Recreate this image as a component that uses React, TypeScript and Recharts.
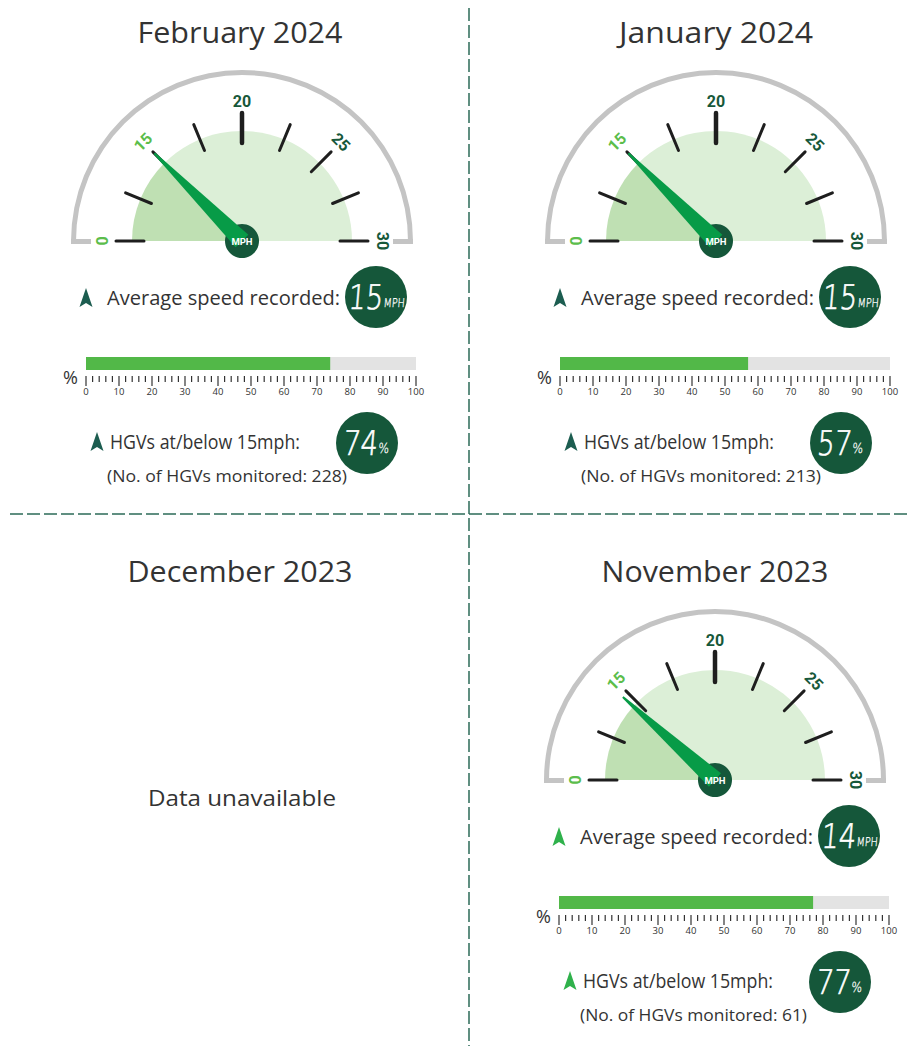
import React from 'react';
import { PieChart, Pie, Cell, BarChart, Bar, XAxis, YAxis } from 'recharts';

// ---------- data ----------
const months = ['February 2024', 'January 2024', 'December 2023', 'November 2023'];
const avgSpeedMph = [15, 15, null, 14];
const pctAtOrBelow15 = [74, 57, null, 77];
const hgvsMonitored = [228, 213, null, 61];
const arrowColors = ['#1c5d50', '#1c5d50', null, '#2fb14b'];

const gaugeTicks = [0, 7.5, 15, 17.5, 20, 22.5, 25, 27.5, 30];
const gaugeTickLabels = ['0', '', '15', '', '20', '', '25', '', '30'];
const gaugeLabelColors = ['#5bbd4b', '', '#5bbd4b', '', '#17583a', '', '#17583a', '', '#17583a'];

const rulerLabelTicks = [0, 10, 20, 30, 40, 50, 60, 70, 80, 90, 100];
const rulerTicks = Array.from({ length: 51 }, (_, i) => i * 2);

// panel layout (top-left origin of each quadrant relative to reference)
const panelOffsets: [number, number][] = [[0, 0], [474, 0], [0, 539], [473, 539]];
const titleWidths = [205, 194, 225, 227];

const DARK = '#15573a';
const TEXT = '#333333';
const FONT = "'Open Sans', 'Noto Sans', sans-serif";
const DIGIT_FONT = "'DejaVu Sans', sans-serif";

// maps a speed to a position on the (piecewise) gauge tick scale
function gaugePos(speed: number): number {
  for (let i = 0; i < gaugeTicks.length - 1; i++) {
    const a = gaugeTicks[i];
    const b = gaugeTicks[i + 1];
    if (speed >= a && speed <= b) return i + (speed - a) / (b - a);
  }
  return gaugeTicks.length - 1;
}

const RAD = Math.PI / 180;
const pt = (cx: number, cy: number, r: number, ang: number) => [cx + r * Math.cos(ang * RAD), cy - r * Math.sin(ang * RAD)];

const renderRimStubs = (p: any) => {
  const { cx, cy } = p;
  return (
    <g>
      <rect x={cx - 171} y={cy - 2} width={20} height={5} fill="#c4c4c4" />
      <rect x={cx + 151} y={cy - 2} width={20} height={5} fill="#c4c4c4" />
    </g>
  );
};

const renderTick = (p: any) => {
  const { cx, cy, midAngle, index } = p;
  const isMajor = index === 4;
  const [x1, y1] = pt(cx, cy, 98, midAngle);
  const [x2, y2] = pt(cx, cy, isMajor ? 128 : 126, midAngle);
  const label = gaugeTickLabels[index];
  const [lx, ly] = pt(cx, cy, 140, midAngle);
  return (
    <g>
      <line x1={x1} y1={y1} x2={x2} y2={y2} stroke="#1e1e1e" strokeWidth={isMajor ? 4.5 : 3} strokeLinecap="round" />
      {label ? (
        <text
          x={lx}
          y={ly}
          transform={`rotate(${90 - midAngle} ${lx} ${ly})`}
          textAnchor="middle"
          dominantBaseline="central"
          fontFamily="Roboto, sans-serif"
          fontWeight={700}
          fontSize={16}
          fill={gaugeLabelColors[index]}
        >
          {label}
        </text>
      ) : null}
    </g>
  );
};

const renderNeedle = (p: any) => {
  const { cx, cy, midAngle, index } = p;
  if (index !== 0) return null;
  const ang = 2 * midAngle - 180;
  const [tx, ty] = pt(cx, cy, 124, ang);
  const [b1x, b1y] = pt(cx, cy, 9, ang + 90);
  const [b2x, b2y] = pt(cx, cy, 9, ang - 90);
  const [t1x, t1y] = pt(tx, ty, 1, ang + 90);
  const [t2x, t2y] = pt(tx, ty, 1, ang - 90);
  return <polygon points={`${b1x},${b1y} ${t1x},${t1y} ${t2x},${t2y} ${b2x},${b2y}`} fill="#079b47" />;
};

const renderHub = (p: any) => {
  const { cx, cy, index } = p;
  if (index !== 0) return null;
  return (
    <text x={cx} y={cy + 3.5} textAnchor="middle" fontFamily="Roboto, sans-serif" fontWeight={700} fontSize={9.5} fill="#ffffff">
      MPH
    </text>
  );
};

function Gauge({ speed, left, top }: { speed: number; left: number; top: number }) {
  const pos = gaugePos(speed);
  const span = gaugeTicks.length - 1;
  const CX = 210;
  const CY = 200;
  const fillData = [{ name: 'below', value: pos }, { name: 'above', value: span - pos }];
  const tickData = gaugeTicks.map((t) => ({ name: String(t), value: 1 }));
  return (
    <div style={{ position: 'absolute', left, top }}>
      <PieChart width={420} height={240} margin={{ top: 0, right: 0, bottom: 0, left: 0 }}>
        <Pie data={[{ name: 'rim', value: 1 }]} dataKey="value" cx={CX} cy={CY} startAngle={180} endAngle={0} innerRadius={166} outerRadius={171} fill="#c4c4c4" stroke="none" isAnimationActive={false} label={renderRimStubs} labelLine={false} />
        <Pie data={fillData} dataKey="value" cx={CX} cy={CY} startAngle={180} endAngle={0} innerRadius={0} outerRadius={110} stroke="none" isAnimationActive={false}>
          <Cell fill="#bfe0b3" />
          <Cell fill="#dcefd7" />
        </Pie>
        <Pie data={tickData} dataKey="value" cx={CX} cy={CY} startAngle={180 + 11.25} endAngle={-11.25} innerRadius={98} outerRadius={126} fill="transparent" stroke="none" isAnimationActive={false} label={renderTick} labelLine={false} />
        <Pie data={fillData} dataKey="value" cx={CX} cy={CY} startAngle={180} endAngle={0} innerRadius={0} outerRadius={110} fill="transparent" stroke="none" isAnimationActive={false} label={renderNeedle} labelLine={false} />
        <Pie data={[{ name: 'hub', value: 1 }]} dataKey="value" cx={CX} cy={CY} startAngle={0} endAngle={360} innerRadius={0} outerRadius={17} fill={DARK} stroke="none" isAnimationActive={false} label={renderHub} labelLine={false} />
      </PieChart>
    </div>
  );
}

const RulerTick = (p: any) => {
  const { x, y, payload } = p;
  const v = payload.value;
  const isLabel = rulerLabelTicks.includes(v);
  return (
    <g>
      <line x1={x} x2={x} y1={y + 6} y2={y + (isLabel ? 16 : 12)} stroke="#333" strokeWidth={1.2} />
      {isLabel ? (
        <text x={x} y={y + 25} textAnchor="middle" fontFamily={FONT} fontSize={9.5} fill="#333">
          {v}
        </text>
      ) : null}
    </g>
  );
};

function PctBar({ pct, name, left, top }: { pct: number; name: string; left: number; top: number }) {
  return (
    <div style={{ position: 'absolute', left, top }}>
      <BarChart width={350} height={43} data={[{ name, pct }]} layout="vertical" margin={{ top: 0, right: 10, bottom: 0, left: 10 }} barCategoryGap={0}>
        <XAxis type="number" domain={[0, 100]} ticks={rulerTicks} interval={0} axisLine={false} tickLine={false} tickSize={0} tickMargin={0} height={30} tick={<RulerTick />} />
        <YAxis type="category" dataKey="name" hide />
        <Bar dataKey="pct" fill="#52b848" background={{ fill: '#e3e3e3' }} isAnimationActive={false} />
      </BarChart>
    </div>
  );
}

const Arrow = ({ x, y, color }: { x: number; y: number; color: string }) => (
  <path d={`M${x},${y - 10} L${x + 6.5},${y + 9} L${x},${y + 5} L${x - 6.5},${y + 9} Z`} fill={color} />
);

function Badge({ cx, cy, big, small }: { cx: number; cy: number; big: string; small: string }) {
  const isPct = small === '%';
  const tx = isPct ? -1.5 : 0;
  return (
    <g>
      <circle cx={cx} cy={cy} r={31} fill={DARK} />
      <g transform={`translate(${cx + tx} ${cy + 12}) scale(0.8 1) skewX(-6)`}>
        <text x={0} y={0} textAnchor="middle" fontFamily={DIGIT_FONT} fontWeight={200} fontSize={34} fill="#fff" stroke="#fff" strokeWidth={0.7}>
          {big}
          <tspan fontSize={isPct ? 14 : 12} dx={1} dy={-2} strokeWidth={0.3}>
            {small}
          </tspan>
        </text>
      </g>
    </g>
  );
}

export default function App() {
  return (
    <div style={{ position: 'absolute', left: 0, top: 0, width: 910, height: 1048, background: '#fff', overflow: 'hidden' }}>
      <svg width={910} height={1048} style={{ position: 'absolute', left: 0, top: 0 }}>
        <line x1={469} y1={8} x2={469} y2={1046} stroke="#2d6b58" strokeWidth={1.5} strokeDasharray="13 4" />
        <line x1={10} y1={514} x2={908} y2={514} stroke="#2d6b58" strokeWidth={1.5} strokeDasharray="13 4" />
        {months.map((m, i) => {
          const [ox, oy] = panelOffsets[i];
          const speed = avgSpeedMph[i];
          const pct = pctAtOrBelow15[i];
          const n = hgvsMonitored[i];
          const ac = arrowColors[i] || TEXT;
          const cxTitle = i === 1 || i === 3 ? 716 - 474 + ox : 240 + ox;
          return (
            <g key={m}>
              <text x={cxTitle - titleWidths[i] / 2} y={43 + oy} fontFamily={FONT} fontSize={29} fill={TEXT} textLength={titleWidths[i]} lengthAdjust="spacingAndGlyphs">
                {m}
              </text>
              {speed === null ? (
                <text x={148 + ox} y={806 - 539 + oy} fontFamily={FONT} fontSize={21} fill={TEXT} textLength={188} lengthAdjust="spacingAndGlyphs">
                  Data unavailable
                </text>
              ) : (
                <g>
                  <Arrow x={86 + ox} y={298 + oy} color={ac} />
                  <text x={107 + ox} y={305 + oy} fontFamily={FONT} fontSize={19.5} fill={TEXT} textLength={233} lengthAdjust="spacingAndGlyphs">
                    Average speed recorded:
                  </text>
                  <Badge cx={376 + ox} cy={297 + oy} big={String(speed)} small="MPH" />
                  <text x={63 + ox} y={384 + oy} fontFamily={FONT} fontSize={18} fill={TEXT}>
                    %
                  </text>
                  <Arrow x={97 + ox} y={442 + oy} color={ac} />
                  <text x={110 + ox} y={449 + oy} fontFamily={FONT} fontSize={19.5} fill={TEXT} textLength={190} lengthAdjust="spacingAndGlyphs">
                    HGVs at/below 15mph:
                  </text>
                  <Badge cx={367 + ox} cy={443 + oy} big={String(pct)} small="%" />
                  <text x={107 + ox} y={482 + oy} fontFamily={FONT} fontSize={16.5} fill={TEXT} textLength={n !== null && n < 100 ? 227 : 240} lengthAdjust="spacingAndGlyphs">
                    {`(No. of HGVs monitored: ${n})`}
                  </text>
                </g>
              )}
            </g>
          );
        })}
      </svg>
      {months.map((m, i) => {
        const [ox, oy] = panelOffsets[i];
        const speed = avgSpeedMph[i];
        const pct = pctAtOrBelow15[i];
        if (speed === null || pct === null) return null;
        return (
          <React.Fragment key={m}>
            <Gauge speed={speed} left={242 - 210 + ox} top={241 - 200 + oy} />
            <PctBar pct={pct} name={m} left={76 + ox} top={357 + oy} />
          </React.Fragment>
        );
      })}
    </div>
  );
}
